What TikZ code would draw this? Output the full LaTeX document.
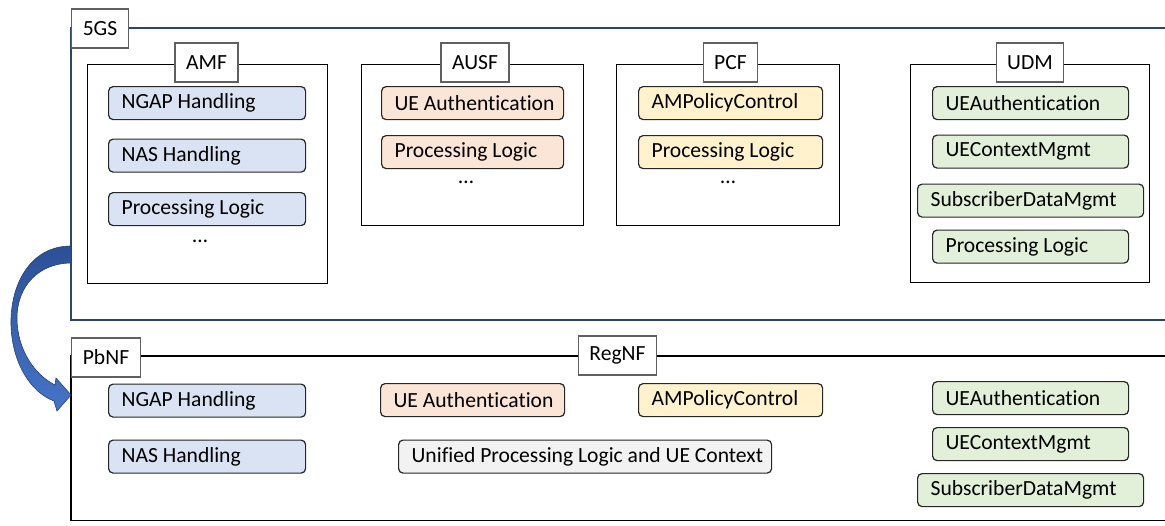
\documentclass[tikz,border=0pt]{standalone}
\usepackage{fontspec}
\setmainfont[Ligatures=NoCommon]{Carlito}
\usetikzlibrary{calc}
\begin{document}
\begin{tikzpicture}[x=1pt,y=-1pt,
  every node/.style={font=\fontsize{21.6}{26}\selectfont},
  sysline/.style={draw=frameblue, line width=1.5pt},
  pbline/.style={draw=black, line width=1.5pt},
  tagbox/.style={draw=gray!75!black, fill=white, line width=1.2pt, minimum height=39pt, inner xsep=11pt, inner ysep=0pt},
  nfbox/.style={draw=black, line width=1.3pt, anchor=north west, inner sep=0pt},
  fn/.style={draw=black!85, line width=1.2pt, rounded corners=4.5pt, anchor=north west,
             minimum height=33pt, inner xsep=13pt, inner ysep=0pt,
             execute at begin node={\hbox to #1\bgroup},
             execute at end node={\hss\egroup}},
  fblue/.style={fn=#1, fill=fnblue},
  forange/.style={fn=#1, fill=fnorange},
  fyellow/.style={fn=#1, fill=fnyellow},
  fgreen/.style={fn=#1, fill=fngreen},
  fgray/.style={fn=#1, fill=fngray},
  dots/.style={inner sep=0pt}
]
\definecolor{frameblue}{RGB}{44,68,116}
\definecolor{fnblue}{RGB}{218,227,243}
\definecolor{fnorange}{RGB}{251,229,214}
\definecolor{fnyellow}{RGB}{255,242,204}
\definecolor{fngreen}{RGB}{226,240,217}
\definecolor{fngray}{RGB}{242,242,242}
\definecolor{arrdark}{RGB}{44,80,150}
\definecolor{arrlight}{RGB}{70,116,200}

\useasboundingbox (0,0) rectangle (1165,525);

% 5GS system frame (open to the right)
\draw[sysline] (1166,28) -- (71,28) -- (71,320) -- (1166,320);
\node[tagbox] (sys) at (100,28.5) {5GS};

% network function boxes
\node[nfbox, minimum width=240pt, minimum height=219pt] (amf) at (87,64) {};
\node[nfbox, minimum width=222pt, minimum height=161pt] (ausf) at (361,64) {};
\node[nfbox, minimum width=223pt, minimum height=161pt] (pcf) at (616,64) {};
\node[nfbox, minimum width=239pt, minimum height=218pt] (udm) at (910,64) {};
\node[tagbox] (amfl) at (206.5,62.5) {AMF};
\node[tagbox] (ausfl) at (475,62.5) {AUSF};
\node[tagbox] (pcfl) at (730.5,62.5) {PCF};
\node[tagbox] (udml) at (1030,62.5) {UDM};

% AMF services
\node[fblue=171pt] (a1) at (108,86) {NGAP Handling};
\node[fblue=171pt] (a2) at (108,138.5) {NAS Handling};
\node[fblue=171pt] (a3) at (108,192) {Processing Logic};
\node[dots] (a4) at (200,241) {\dots};

% AUSF services
\node[forange=156pt] (b1) at (381,86) {UE Authentication};
\node[forange=156pt] (b2) at (381,135) {Processing Logic};
\node[dots] (b3) at (466,182) {\dots};

% PCF services
\node[fyellow=158pt] (c1) at (638,86) {AMPolicyControl};
\node[fyellow=158pt] (c2) at (638,135) {Processing Logic};
\node[dots] (c3) at (728,182) {\dots};

% UDM services
\node[fgreen=170pt] (d1) at (932,86) {UEAuthentication};
\node[fgreen=170pt] (d2) at (932,134.5) {UEContextMgmt};
\node[fgreen=200pt] (d3) at (917,183.5) {SubscriberDataMgmt};
\node[fgreen=170pt] (d4) at (932,229.5) {Processing Logic};

% PbNF frame (open to the right)
\draw[pbline] (1166,356) -- (71,356) -- (71,520.5) -- (1166,520.5);
\node[tagbox] (pb) at (106,357.5) {PbNF};
\node[tagbox] (reg) at (617.5,355.5) {RegNF};

% PbNF services
\node[fblue=171pt] (p1) at (108,383.5) {NGAP Handling};
\node[fblue=171pt] (p2) at (108,439.5) {NAS Handling};
\node[forange=158pt] (p3) at (380,383) {UE Authentication};
\node[fyellow=158pt] (p4) at (638,383) {AMPolicyControl};
\node[fgray=347pt] (p5) at (398,439.5) {Unified Processing Logic and UE Context};
\node[fgreen=170pt] (p6) at (932,381) {UEAuthentication};
\node[fgreen=170pt] (p7) at (932,427) {UEContextMgmt};
\node[fgreen=200pt] (p8) at (917,473) {SubscriberDataMgmt};

% curved block arrow from the 5GS frame to the PbNF frame
\coordinate (arrFrom) at (71,254.5);
\coordinate (arrTo) at (71,395);
\path[draw=arrdark!80!black, line width=0.6pt, top color=arrdark, bottom color=arrlight]
  ($(arrFrom)+(0,-8.5)$)
    .. controls (30,246) and (10,285) .. (11,325)
    .. controls (12,362) and (30,392) .. (54,401)
    -- (57,411) -- (arrTo) -- (56,378) -- (55,385)
    .. controls (35,375) and (17,350) .. (17,318)
    .. controls (17,285) and (40,263) .. ($(arrFrom)+(0,8.5)$)
    -- cycle;
\end{tikzpicture}
\end{document}
